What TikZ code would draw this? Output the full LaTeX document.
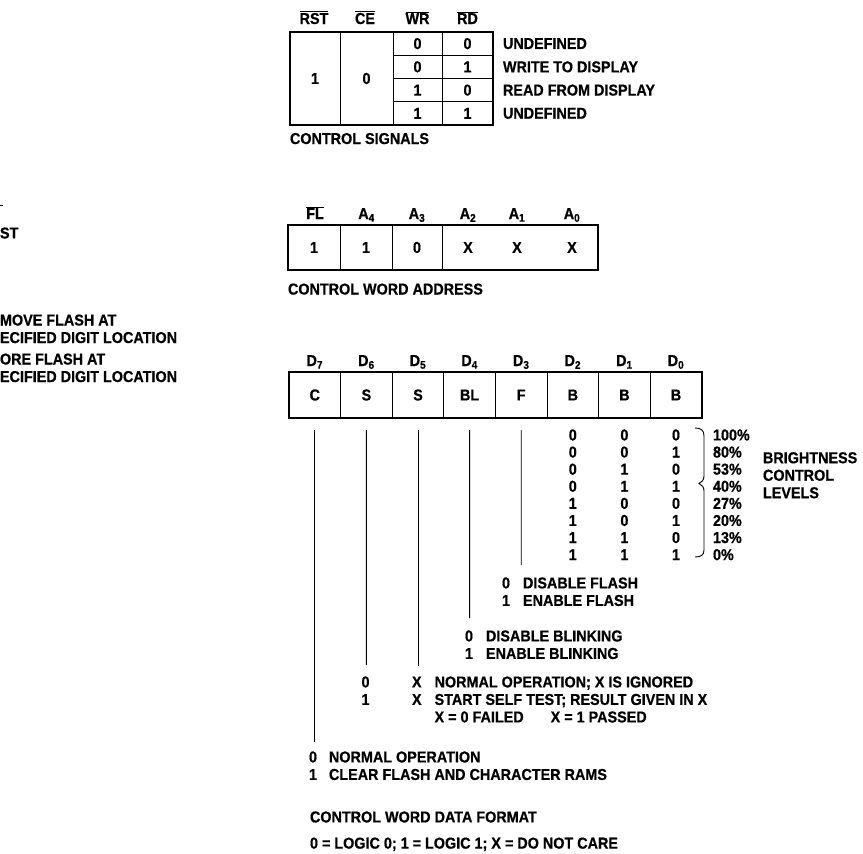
\documentclass[tikz,border=0pt]{standalone}
\usepackage{fontspec}
\setmainfont{Liberation Sans}[BoldFeatures={FakeStretch=0.91,FakeBold=0.6}]
\usetikzlibrary{positioning}
\newcommand{\ovl}[1]{$\overline{\mbox{#1}}$}
\newcommand{\bitgap}{\hspace{13pt}}
\tikzset{wrbox/.style={cell,minimum width=49pt,minimum height=23.25pt},
  rdbox/.style={cell,minimum width=51pt,minimum height=23.25pt},
  adbox/.style={cell,minimum height=45pt},
  dbox/.style={cell,minimum width=51.6pt,minimum height=46pt}}

\begin{document}
\begin{tikzpicture}[x=1pt,y=-1pt,
    txt/.style={font=\bfseries\fontsize{15.8}{17.5}\selectfont,inner sep=0pt,outer sep=0pt},
    note/.style={txt,anchor=north west,align=left},
    hdr/.style={txt,anchor=base},
    cell/.style={txt,draw,line width=0.9pt},
    frame/.style={draw,line width=1.6pt},
    stub/.style={line width=0.9pt}]
    \useasboundingbox (0,0) rectangle (863,854);
    % cut-off text at the left edge
    \draw[stub] (0,205) -- (2.5,205);
    \node[txt,anchor=west] (cut1) at (0,233) {ST};
    \node[note] (cut2) at (0,314.5) {MOVE FLASH AT\\ECIFIED DIGIT LOCATION};
    \node[note] (cut3) at (0,353.5) {ORE FLASH AT\\ECIFIED DIGIT LOCATION};
    % control signals
    \node[cell,minimum width=50pt,minimum height=93pt,anchor=north west] (rst) at (290,32) {1};
    \node[cell,minimum width=53pt,minimum height=93pt,right=0pt of rst] (ce) {0};
    \node[wrbox,anchor=north west] (wr1) at (ce.north east) {0};
    \node[rdbox,right=0pt of wr1] (rd1) {0};
    \node[wrbox,below=0pt of wr1] (wr2) {0};
    \node[rdbox,right=0pt of wr2] (rd2) {1};
    \node[wrbox,below=0pt of wr2] (wr3) {1};
    \node[rdbox,right=0pt of wr3] (rd3) {0};
    \node[wrbox,below=0pt of wr3] (wr4) {1};
    \node[rdbox,right=0pt of wr4] (rd4) {1};
    \draw[frame] (rst.north west) rectangle (rd4.south east);
    \node[hdr] (hrst) at (314,24) {\ovl{RST}};
    \node[hdr] (hce) at (365,24) {\ovl{CE}};
    \node[hdr] (hwr) at (417.5,24) {\ovl{WR}};
    \node[hdr] (hrd) at (467.5,24) {\ovl{RD}};
    \node[txt,right=10pt of rd1] (u1) {UNDEFINED};
    \node[txt,right=10pt of rd2] (u2) {WRITE TO DISPLAY};
    \node[txt,right=10pt of rd3] (u3) {READ FROM DISPLAY};
    \node[txt,right=10pt of rd4] (u4) {UNDEFINED};
    \node[txt,below=8pt of rst.south west,anchor=north west] (sig) {CONTROL SIGNALS};
    % control word address
    \node[adbox,minimum width=52pt,anchor=north west] (fl) at (288,225) {1};
    \node[adbox,minimum width=52pt,right=0pt of fl] (a4) {1};
    \node[adbox,minimum width=50pt,right=0pt of a4] (a3) {0};
    \node[adbox,minimum width=156pt,right=0pt of a3] (axx) {};
    \node[txt] (x2) at (468,247.5) {X};
    \node[txt] (x1) at (517,247.5) {X};
    \node[txt] (x0) at (572,247.5) {X};
    \draw[frame] (fl.north west) rectangle (axx.south east);
    \node[hdr] (hfl) at (315,219) {\ovl{FL}};
    \node[hdr] (ha4) at (366.5,219) {A\textsubscript{4}};
    \node[hdr] (ha3) at (417,219) {A\textsubscript{3}};
    \node[hdr] (ha2) at (468,219) {A\textsubscript{2}};
    \node[hdr] (ha1) at (517,219) {A\textsubscript{1}};
    \node[hdr] (ha0) at (572,219) {A\textsubscript{0}};
    \node[txt,below=13.5pt of fl.south west,anchor=north west] (adr) {CONTROL WORD ADDRESS};
    % control word data
    \node[dbox,anchor=north west] (d7) at (289,372) {C};
    \node[dbox,right=0pt of d7] (d6) {S};
    \node[dbox,right=0pt of d6] (d5) {S};
    \node[dbox,right=0pt of d5] (d4) {BL};
    \node[dbox,right=0pt of d4] (d3) {F};
    \node[dbox,right=0pt of d3] (d2) {B};
    \node[dbox,right=0pt of d2] (d1) {B};
    \node[dbox,right=0pt of d1] (d0) {B};
    \draw[frame] (d7.north west) rectangle (d0.south east);
    \node[hdr] (hd7) at (314.8,366) {D\textsubscript{7}};
    \node[hdr] (hd6) at (366.4,366) {D\textsubscript{6}};
    \node[hdr] (hd5) at (418,366) {D\textsubscript{5}};
    \node[hdr] (hd4) at (469.6,366) {D\textsubscript{4}};
    \node[hdr] (hd3) at (521.2,366) {D\textsubscript{3}};
    \node[hdr] (hd2) at (572.8,366) {D\textsubscript{2}};
    \node[hdr] (hd1) at (624.4,366) {D\textsubscript{1}};
    \node[hdr] (hd0) at (676,366) {D\textsubscript{0}};
    \coordinate (e7) at (314.8,742);
    \coordinate (e6) at (366.4,665);
    \coordinate (e5) at (418,666);
    \coordinate (e4) at (469.6,618);
    \coordinate (e3) at (521.2,565);
    \draw[stub] ([yshift=-12pt]d7.south) -- (e7);
    \draw[stub] ([yshift=-12pt]d6.south) -- (e6);
    \draw[stub] ([yshift=-12pt]d5.south) -- (e5);
    \draw[stub] ([yshift=-12pt]d4.south) -- (e4);
    \draw[stub] ([yshift=-12pt]d3.south) -- (e3);
    % brightness levels
    \foreach \a/\b/\c/\p [count=\k from 0] in {0/0/0/100\%,0/0/1/80\%,0/1/0/53\%,0/1/1/40\%,1/0/0/27\%,1/0/1/20\%,1/1/0/13\%,1/1/1/0\%}{
      \node[txt] (b2\k) at (572.8,{435+17.1*\k}) {\a};
      \node[txt] (b1\k) at (624.4,{435+17.1*\k}) {\b};
      \node[txt] (b0\k) at (676,{435+17.1*\k}) {\c};
      \node[txt,anchor=west] (pc\k) at (713,{435+17.1*\k}) {\p};
    }
    \draw[stub] (695,428) .. controls (701,428) and (704,430) .. (704,436) -- (704,476)
      .. controls (704,480) and (702,482) .. (699,483.5) .. controls (702,485) and (704,487) .. (704,491)
      -- (704,550) .. controls (704,555) and (701,557) .. (695,557);
    \node[note] (lvl) at (763,452.2) {BRIGHTNESS\\CONTROL\\LEVELS};
    % meaning of the bits
    \node[note] (flash) at (502,577.4) {0\bitgap DISABLE FLASH\\1\bitgap ENABLE FLASH};
    \node[note] (blink) at (465,630.4) {0\bitgap DISABLE BLINKING\\1\bitgap ENABLE BLINKING};
    \node[note,anchor=north,align=center] (st) at (365.5,676.4) {0\\1};
    \node[note] (stx) at (412,676.4) {X\bitgap NORMAL OPERATION; X IS IGNORED\\X\bitgap START SELF TEST; RESULT GIVEN IN X\\\phantom{X}\bitgap X = 0 FAILED\hspace{27pt}X = 1 PASSED};
    \node[note] (clr) at (309,751.4) {0\hspace{12pt}NORMAL OPERATION\\1\hspace{12pt}CLEAR FLASH AND CHARACTER RAMS};
    \node[txt,anchor=west] (fmt) at (310,817) {CONTROL WORD DATA FORMAT};
    \node[txt,anchor=base west] (key) at (310,848.6) {0 = LOGIC 0; 1 = LOGIC 1; X = DO NOT CARE};
  \end{tikzpicture}
\end{document}
